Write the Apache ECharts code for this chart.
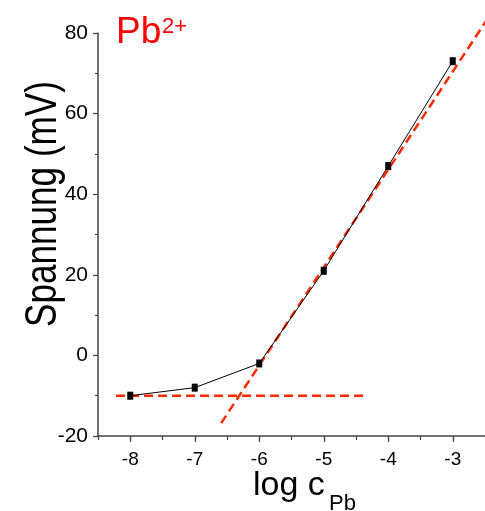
<!DOCTYPE html>
<html>
<head>
<meta charset="utf-8">
<script src="https://cdn.jsdelivr.net/npm/echarts@6/dist/echarts.min.js"></script>
<style>
html,body{margin:0;padding:0;background:#fff;}
#chart{width:485px;height:511px;}
</style>
</head>
<body>
<div id="chart"></div>
<script>
// ---- data ----
var logC = [-8, -7, -6, -5, -4, -3];
var spannung = [-10, -8, -2, 21, 47, 73];
var baseLineX = [-8.22, -4.33];
var baseLineY = [-10, -10];
var slopeLineX = [-6.59, -2.4];
var slopeLineY = [-16.8, 85.0];
var xTickValues = [-8, -7, -6, -5, -4, -3];

function pairs(xs, ys) { return xs.map(function (x, i) { return [x, ys[i]]; }); }

var sans = '"Liberation Sans", Arial, sans-serif';

var chart = echarts.init(document.getElementById('chart'), null, {renderer: 'canvas'});
var option = {
  animation: false,
  backgroundColor: '#fff',
  grid: {left: 98, top: 33, right: -4, bottom: 75, containLabel: false},
  xAxis: [{
    type: 'value', min: -8.5, max: -2.5,
    axisLine: {show: true, onZero: false, lineStyle: {color: '#444', width: 1.5}},
    axisTick: {show: true, length: 6, inside: false, customValues: xTickValues, lineStyle: {color: '#444', width: 1.2}},
    axisLabel: {show: true, customValues: xTickValues, margin: 14, color: '#000', fontSize: 19, fontFamily: sans,
      formatter: function (v) { return String(v); }},
    splitLine: {show: false}
  }, {
    type: 'value', min: -8.5, max: -2.5, interval: 0.5, position: 'bottom',
    axisLine: {show: false, onZero: false},
    axisTick: {show: true, length: 4, lineStyle: {color: '#444', width: 1.2}},
    axisLabel: {show: false},
    splitLine: {show: false}
  }],
  yAxis: {
    type: 'value', min: -20, max: 80, interval: 20,
    axisLine: {show: true, onZero: false, lineStyle: {color: '#444', width: 1.5}},
    axisTick: {show: true, length: 5, lineStyle: {color: '#444', width: 1.2}},
    minorTick: {show: true, splitNumber: 2, length: 3, lineStyle: {color: '#444', width: 1.2}},
    axisLabel: {margin: 10, color: '#000', fontSize: 21, fontFamily: sans},
    splitLine: {show: false}
  },
  graphic: [
    {type: 'text', x: 44, y: 204, rotation: Math.PI / 2, scaleX: 0.78, scaleY: 1,
      style: {text: 'Spannung (mV)', font: '45px ' + sans, fill: '#000', textAlign: 'center', textVerticalAlign: 'middle'}},
    {type: 'text', x: 253, y: 486,
      style: {text: 'log c', font: '34px ' + sans, fill: '#000', textAlign: 'left', textVerticalAlign: 'middle'}},
    {type: 'text', x: 329, y: 504,
      style: {text: 'Pb', font: '22px ' + sans, fill: '#000', textAlign: 'left', textVerticalAlign: 'middle'}},
    {type: 'text', x: 116, y: 33,
      style: {text: 'Pb', font: '37px ' + sans, fill: '#ff0000', textAlign: 'left', textVerticalAlign: 'middle'}},
    {type: 'text', x: 162, y: 27,
      style: {text: '2+', font: '22px ' + sans, fill: '#ff0000', textAlign: 'left', textVerticalAlign: 'middle'}}
  ],
  series: [
    {type: 'line', xAxisIndex: 0, data: pairs(baseLineX, baseLineY), symbol: 'none', clip: false,
      lineStyle: {color: '#ff2a00', width: 2.5, type: [9, 5]}, z: 2},
    {type: 'line', xAxisIndex: 0, data: pairs(slopeLineX, slopeLineY), symbol: 'none', clip: false,
      lineStyle: {color: '#ff2a00', width: 2.5, type: [9, 5]}, z: 2},
    {type: 'line', xAxisIndex: 0, data: pairs(logC, spannung), symbol: 'rect', symbolSize: [6, 8],
      itemStyle: {color: '#000'}, lineStyle: {color: '#000', width: 1}, z: 3}
  ]
};
chart.setOption(option);
</script>
</body>
</html>
